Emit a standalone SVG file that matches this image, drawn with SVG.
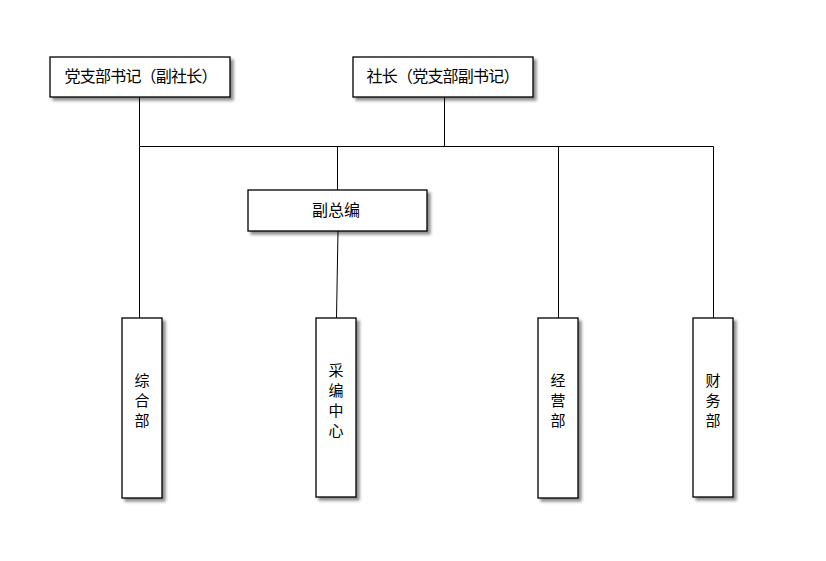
<svg xmlns="http://www.w3.org/2000/svg" width="826" height="561" viewBox="0 0 826 561">
<defs>
<filter id="sh" x="-20%" y="-20%" width="150%" height="150%">
<feDropShadow dx="3" dy="3" stdDeviation="1.5" flood-color="#000" flood-opacity="0.45"/>
</filter>
</defs>
<style>
.box{fill:#fff;stroke:#000;stroke-width:1.3;filter:url(#sh)}
.ln{fill:none;stroke:#000;stroke-width:1}
.t{font-family:"Noto Sans CJK SC","Noto Sans CJK JP",sans-serif;font-size:16px;fill:#000;text-anchor:middle}
.v{font-family:"Noto Sans CJK SC","Noto Sans CJK JP",sans-serif;font-size:15px;fill:#000;text-anchor:middle}
</style>
<rect width="826" height="561" fill="#fff"/>
<g id="connectors">
<path class="ln" d="M139.5 97V146.5H713.5V318"/>
<path class="ln" d="M444.5 97V146.5"/>
<path class="ln" d="M139.5 146.5V318"/>
<path class="ln" d="M337.5 146.5V190"/>
<path class="ln" d="M338 231L336.5 318"/>
<path class="ln" d="M558.5 146.5V318"/>
</g>
<g id="n1"><rect class="box" x="50" y="57" width="180" height="40"/><text class="t" x="141" y="82" textLength="153" lengthAdjust="spacing">党支部书记（副社长）</text></g>
<g id="n2"><rect class="box" x="353" y="57" width="180" height="40"/><text class="t" x="443" y="82" textLength="153" lengthAdjust="spacing">社长（党支部副书记）</text></g>
<g id="n3"><rect class="box" x="248" y="190" width="179" height="41"/><text class="t" x="336" y="216">副总编</text></g>
<g id="n4"><rect class="box" x="122" y="318" width="40" height="180"/><text class="v"><tspan x="142" y="386">综</tspan><tspan x="142" y="406">合</tspan><tspan x="142" y="426">部</tspan></text></g>
<g id="n5"><rect class="box" x="316" y="318" width="40" height="179"/><text class="v"><tspan x="336" y="376">采</tspan><tspan x="336" y="396">编</tspan><tspan x="336" y="416">中</tspan><tspan x="336" y="436">心</tspan></text></g>
<g id="n6"><rect class="box" x="538" y="318" width="40" height="180"/><text class="v"><tspan x="558" y="386">经</tspan><tspan x="558" y="406">营</tspan><tspan x="558" y="426">部</tspan></text></g>
<g id="n7"><rect class="box" x="693" y="318" width="40" height="179"/><text class="v"><tspan x="713" y="386">财</tspan><tspan x="713" y="406">务</tspan><tspan x="713" y="426">部</tspan></text></g>
</svg>
